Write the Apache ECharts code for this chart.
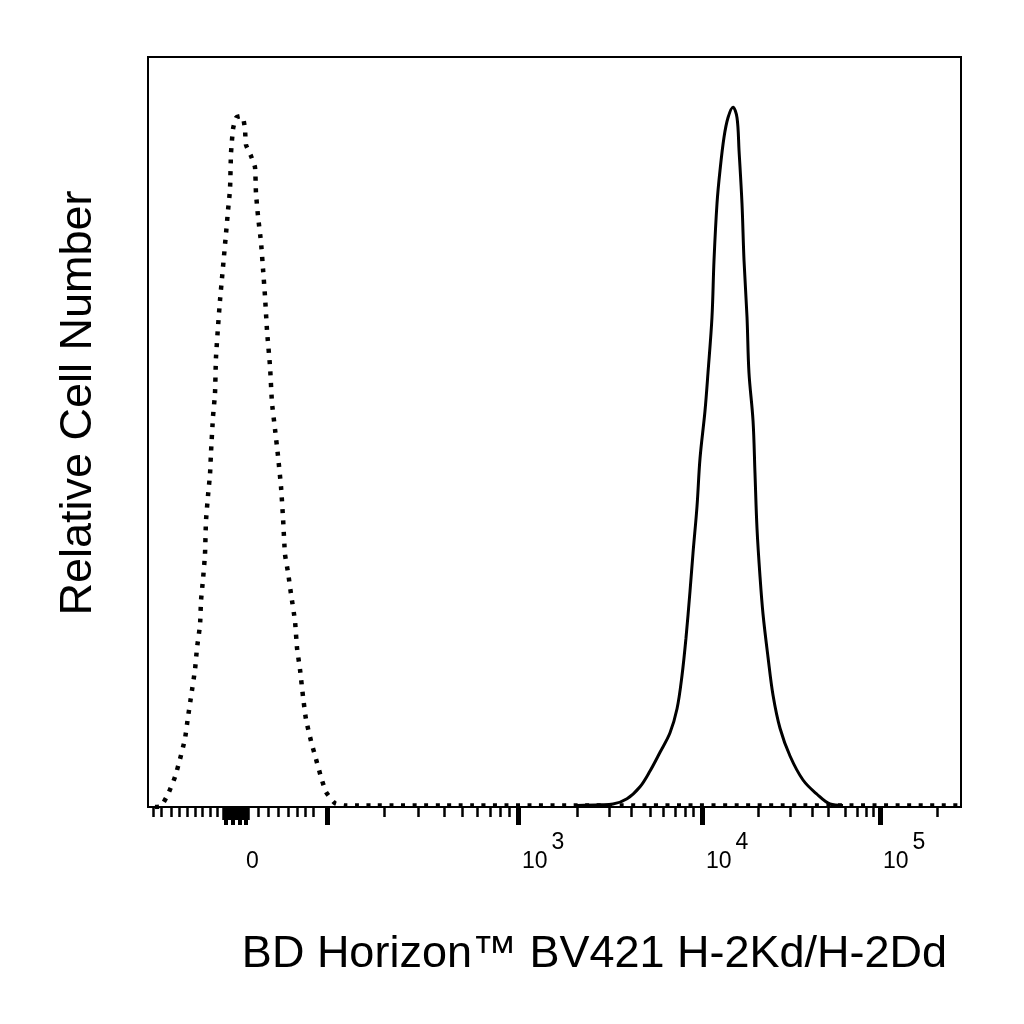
<!DOCTYPE html>
<html lang="en">
<head>
    <meta charset="UTF-8">
    <title>BV421 H-2Kd/H-2Dd histogram</title>
    <script src="https://cdn.jsdelivr.net/npm/echarts@6/dist/echarts.min.js"></script>
    <style>
        html, body { margin: 0; padding: 0; background: #fff; }
        #container { width: 1024px; height: 1024px; }
    </style>
</head>
<body>
<div id="container"></div>
<script type="text/javascript">
// x is in display channels (0-1000) of the biexponential scale
var isoX = [8.6, 16.0, 24.6, 33.2, 39.4, 45.5, 49.2, 52.9, 57.8, 60.3,
    64.0, 65.2, 67.7, 70.1, 71.3, 73.8, 76.3, 77.5, 80.0, 82.4,
    83.6, 86.1, 88.6, 91.0, 93.5, 95.9, 98.4, 100.9, 102.1, 104.6,
    108.2, 113.2, 116.9, 119.3, 120.5, 126.7, 131.6, 132.8, 135.3, 139.0,
    141.5, 143.9, 146.4, 150.1, 152.5, 156.2, 159.9, 163.6, 166.1, 168.5,
    172.2, 175.9, 180.8, 183.3, 187.0, 190.7, 194.3, 200.5, 206.6, 212.8,
    218.9, 230.0, 242.3, 400, 600, 800, 1000];
var isoY = [0, 0.1, 1.7, 4.0, 6.4, 9.1, 12.0, 14.7, 18.3, 21.2,
    24.3, 27.5, 30.4, 33.7, 38.1, 41.5, 44.4, 47.3, 52.1, 55.1,
    59.9, 64.0, 67.6, 70.5, 73.5, 76.4, 79.5, 82.4, 87.2, 90.4,
    91.9, 92.1, 91.9, 90.4, 88.3, 86.8, 85.3, 81.9, 78.8, 75.3,
    71.7, 68.1, 63.5, 58.7, 53.9, 50.4, 46.8, 42.7, 38.5, 33.7,
    31.3, 28.4, 24.8, 21.2, 18.3, 14.7, 11.7, 8.8, 6.4, 4.0,
    2.0, 0.5, 0.2, 0.2, 0.2, 0.2, 0.2];

var stainX = [527.7, 556.0, 572.0, 589.2, 605.2, 617.5, 629.8, 642.1, 650.7, 656.8,
    661.7, 666.7, 670.4, 675.3, 679.0, 685.1, 688.8, 693.7, 696.2, 699.9,
    703.6, 708.5, 713.4, 719.6, 724.5, 727.0, 730.6, 733.1, 736.8, 739.2,
    744.2, 746.6, 749.1, 752.8, 756.5, 762.6, 768.8, 777.4, 789.7, 805.7,
    822.9, 838.9, 854.9];
var stainY = [0.2, 0.3, 0.4, 1.1, 2.7, 4.8, 7.3, 9.9, 13.1, 17.5,
    22.5, 28.8, 33.9, 40.1, 46.5, 52.8, 57.9, 65.3, 72.9, 80.5,
    84.9, 89.3, 91.9, 93.3, 91.9, 87.5, 80.5, 72.9, 65.3, 57.9,
    51.5, 44.5, 37.1, 30.7, 25.7, 20.0, 14.9, 10.5, 6.8, 3.6,
    1.7, 0.4, 0.2];

// tick positions (display channels)
var minorTicks = [6.2, 16.0, 28.3, 38.1, 48.0, 57.8, 66.4, 76.3, 84.9,
    135.3, 147.6, 159.9, 172.2, 183.3, 193.1, 203.0,
    290.3, 332.1, 364.1, 386.2, 404.7, 420.7, 433.0, 444.0,
    527.7, 567.0, 594.1, 617.5, 633.5, 648.2, 660.5, 670.4,
    750.3, 789.7, 816.7, 836.4, 857.3, 872.1, 883.1, 891.8, 970.5];
var majorTicks = [220.2, 455.1, 681.4, 900.4];
var zeroBlock = [93.5, 96.5, 99.5, 102.5, 105.5, 108.5, 111.5, 114.5, 117.5, 120.5, 123.0];
var zeroLegs = [95.9, 104.6, 113.2, 120.5];
var labelPos = [120.5, 460.0, 686.3, 904.1];
var labelText = ['0', '10{s|3}', '10{s|4}', '10{s|5}'];

var font = 'Liberation Sans, Arial, Helvetica, sans-serif';

function toPairs(xs, ys) {
    var out = [];
    for (var i = 0; i < xs.length; i++) {
        out.push([xs[i], ys[i]]);
    }
    return out;
}

function tickAxis(values, len, width) {
    return {
        type: 'value', gridIndex: 0, position: 'bottom', offset: 0,
        min: 0, max: 1000,
        axisLine: {show: false},
        splitLine: {show: false},
        axisLabel: {show: false},
        axisTick: {
            show: true, inside: false, length: len, customValues: values,
            lineStyle: {color: '#000', width: width}
        }
    };
}

var myChart = echarts.init(document.getElementById('container'), null, {renderer: 'canvas'});

// the main axis carries the minor ticks, the decade labels and the title
var mainAxis = tickAxis(minorTicks, 10, 2.5);
mainAxis.name = 'BD Horizon\u2122 BV421 H-2Kd/H-2Dd';
mainAxis.nameLocation = 'middle';
mainAxis.nameGap = 125;
mainAxis.nameTextStyle = {
    fontSize: 45, color: '#000', fontFamily: font, padding: [0, 0, 0, 80]
};
mainAxis.axisLabel = {
    show: true,
    customValues: labelPos,
    align: 'left',
    margin: 25,
    fontSize: 23,
    lineHeight: 60,
    color: '#000',
    fontFamily: font,
    hideOverlap: false,
    showMinLabel: true,
    showMaxLabel: true,
    formatter: function (value, index) {
        var i = labelPos.indexOf(value);
        return labelText[i >= 0 ? i : index] || '';
    },
    rich: {
        s: {fontSize: 23, lineHeight: 27, color: '#000', fontFamily: font, padding: [0, 0, 38, 4]}
    }
};

var option = {
    animation: false,
    backgroundColor: '#fff',
    grid: {
        left: 148, top: 57, width: 813, height: 750,
        show: true, borderColor: '#000', borderWidth: 2, backgroundColor: 'transparent'
    },
    xAxis: [
        mainAxis,
        tickAxis(majorTicks, 18, 5),
        tickAxis(zeroBlock, 13, 3.5),
        tickAxis(zeroLegs, 18, 4)
    ],
    yAxis: {
        type: 'value', min: 0, max: 100,
        axisLine: {show: false},
        axisTick: {show: false},
        axisLabel: {show: false},
        splitLine: {show: false},
        name: 'Relative Cell Number',
        nameLocation: 'middle',
        nameGap: 47,
        nameTextStyle: {
            fontSize: 45, color: '#000', fontFamily: font, padding: [0, 0, 0, 58]
        }
    },
    series: [
        {
            name: 'Isotype',
            type: 'line',
            xAxisIndex: 0,
            data: toPairs(isoX, isoY),
            showSymbol: false,
            smooth: 0.15,
            lineStyle: {color: '#000', width: 4.5, type: [4, 7.5], cap: 'butt'}
        },
        {
            name: 'H-2Kd/H-2Dd',
            type: 'line',
            xAxisIndex: 0,
            data: toPairs(stainX, stainY),
            showSymbol: false,
            smooth: 0.35,
            lineStyle: {color: '#000', width: 3}
        }
    ]
};

myChart.setOption(option);
</script>
</body>
</html>
